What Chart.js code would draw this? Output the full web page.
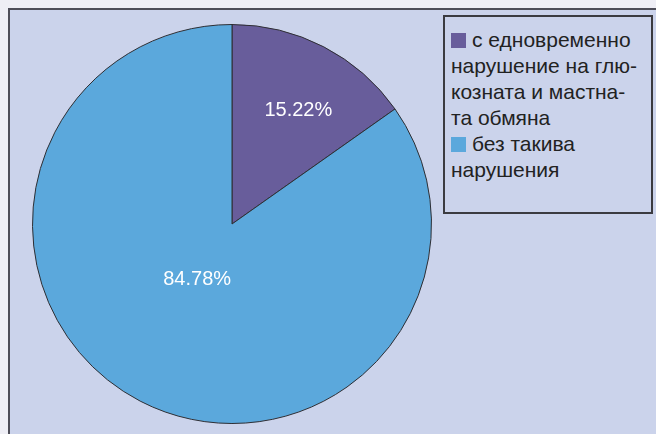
<!DOCTYPE html>
<html>
<head>
<meta charset="utf-8">
<script src="https://cdn.jsdelivr.net/npm/chart.js@4.4.1/dist/chart.umd.min.js"></script>
<style>
  body { margin: 0; background: #eeeef5; width: 656px; height: 434px; overflow: hidden; position: relative; }
  #frame { position: absolute; left: 8px; top: 8px; width: 660px; height: 440px; background: #cbd3eb;
           border-left: 2px solid #4d4d58; border-top: 2px solid #4d4d58; }
  #pieBox { position: absolute; left: 32px; top: 24px; width: 400px; height: 400px; }
  #legend { position: absolute; left: 443px; top: 15px; width: 210px; height: 199px; border: 2px solid #3b3b40;
            font-family: "Liberation Sans", Arial, sans-serif; font-size: 21px; line-height: 26px; color: #222;
            padding: 10px 0 0 6px; box-sizing: border-box; white-space: nowrap; }
  #legend .sw { display: inline-block; width: 15px; height: 15px; margin-right: 6px; vertical-align: -1px; }
</style>
</head>
<body>
<div id="frame"></div>
<div id="pieBox"><canvas id="chart"></canvas></div>
<div id="legend"></div>
<script>
// legend labels, each split in the lines used in the picture
var labels = [
    ['с едновременно', 'нарушение на глю-', 'козната и мастна-', 'та обмяна'],
    ['без такива', 'нарушения']
];
var values = [15.22, 84.78];
var colors = ['#685d9b', '#5ba8dc'];
var valueText = ['15.22%', '84.78%'];
// how far out (fraction of the radius) each percentage sits
var labelRadius = [0.66, 0.33];
var labelTurn = [0.05, 0.08];

var legendHtml = '';
for (var i = 0; i < labels.length; i++) {
    legendHtml += '<span class="sw" style="background:' + colors[i] + '"></span>' + labels[i].join('<br>') + '<br>';
}
document.getElementById('legend').innerHTML = legendHtml;

var sliceLabels = {
    id: 'sliceLabels',
    afterDatasetsDraw: function (chart) {
        var c = chart.ctx;
        var arcs = chart.getDatasetMeta(0).data;
        c.save();
        c.fillStyle = '#ffffff';
        c.font = '20px "Liberation Sans", Arial, sans-serif';
        c.textAlign = 'center';
        c.textBaseline = 'middle';
        arcs.forEach(function (arc, i) {
            var mid = (arc.startAngle + arc.endAngle) / 2 + labelTurn[i];
            var r = arc.outerRadius * labelRadius[i];
            c.fillText(valueText[i], arc.x + Math.cos(mid) * r, arc.y + Math.sin(mid) * r);
        });
        c.restore();
    }
};

var ctx = document.getElementById('chart').getContext('2d');
var chart = new Chart(ctx, {
    type: 'pie',
    data: {
        labels: labels.map(function (l) { return l.join(' '); }),
        datasets: [{
            data: values,
            backgroundColor: colors,
            borderColor: '#2e2e33',
            borderWidth: 1
        }]
    },
    options: {
        responsive: true,
        maintainAspectRatio: false,
        animation: false,
        plugins: {
            legend: { display: false },
            tooltip: { enabled: false }
        }
    },
    plugins: [sliceLabels]
});
</script>
</body>
</html>
